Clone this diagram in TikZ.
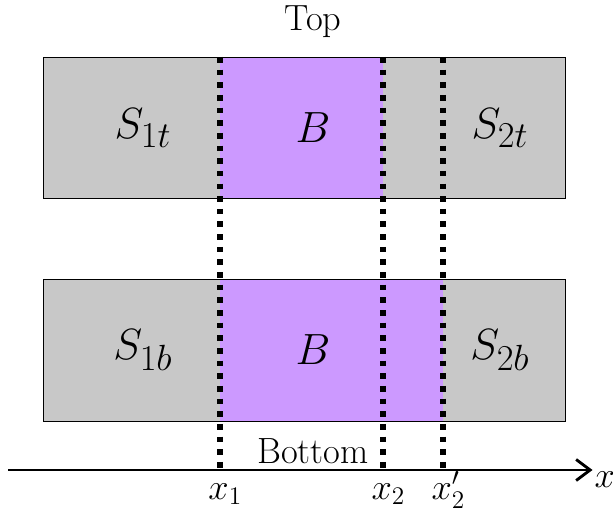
\documentclass[tikz,border=0pt]{standalone}
\usetikzlibrary{arrows.meta, positioning}
\definecolor{slabgray}{RGB}{200,200,200}
\definecolor{bulkpurple}{RGB}{204,153,255}

\begin{document}
\begin{tikzpicture}[
      side/.style={fill=slabgray},
      bulk/.style={fill=bulkpurple},
      frame/.style={draw, thin},
      lbl/.style={font=\Huge},
      cut/.style={line width=3.2pt, dash pattern=on 3.2pt off 4pt},
      axis/.style={line width=1.6pt, -{Straight Barb[length=8pt, width=12pt, line width=1.6pt]}},
      tick/.style={font=\huge, anchor=base, inner sep=0pt, xshift=3pt}
    ]
    \useasboundingbox (0,0) rectangle (12.26,10.24);

    % Top row
    \fill[side] (0.86,6.28) rectangle (11.30,9.10);
    \fill[bulk] (4.40,6.28) rectangle (7.66,9.10);
    \draw[frame] (0.86,6.28) rectangle (11.30,9.10);
    \node[lbl] (s1t) at (2.86,7.68) {$S_{1t}$};
    \node[lbl] (bt) at (6.26,7.68) {$B$};
    \node[lbl] (s2t) at (10.00,7.68) {$S_{2t}$};
    \node[font=\huge] (top) at (6.26,9.80) {Top};

    % Bottom row
    \fill[side] (0.86,1.82) rectangle (11.30,4.66);
    \fill[bulk] (4.40,1.82) rectangle (8.86,4.66);
    \draw[frame] (0.86,1.82) rectangle (11.30,4.66);
    \node[lbl] (s1b) at (2.86,3.24) {$S_{1b}$};
    \node[lbl] (bb) at (6.26,3.24) {$B$};
    \node[lbl] (s2b) at (10.00,3.24) {$S_{2b}$};
    \node[font=\huge] (bottom) at (6.26,1.22) {Bottom};

    % Axis
    \coordinate (o) at (0.16,0.84);
    \coordinate (xend) at (11.85,0.84);
    \draw[axis] (o) -- (xend);
    \node[font=\huge, anchor=north west, inner sep=1pt] (xlab) at (xend) {$x$};

    % Cuts
    \coordinate (c1) at (4.40,0.84);
    \coordinate (c2) at (7.66,0.84);
    \coordinate (c3) at (8.86,0.84);
    \foreach \c in {c1,c2,c3}
      \draw[cut] (\c |- 0,9.10) -- (\c);
    \node[tick] (x1) at (c1 |- 0,0.26) {$x_1$};
    \node[tick] (x2) at (c2 |- 0,0.26) {$x_2$};
    \node[tick] (x2p) at (c3 |- 0,0.26) {$x_2'$};
\end{tikzpicture}
\end{document}
